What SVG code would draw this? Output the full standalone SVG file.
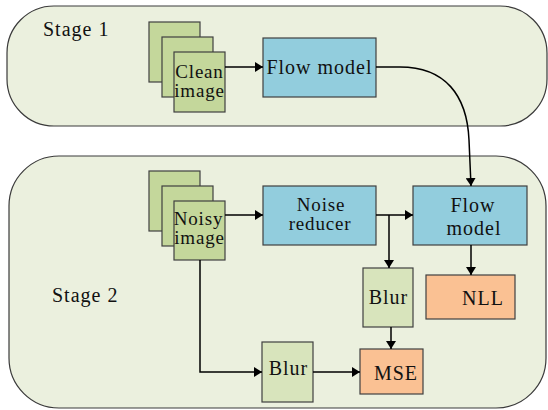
<svg xmlns="http://www.w3.org/2000/svg" width="548" height="410" viewBox="0 0 548 410">
<style>
.stage{fill:#ebf0de;stroke:#3a3a3a;stroke-width:1.2}
.img{fill:#c4d79b;stroke:#404040;stroke-width:1.2}
.blur{fill:#d8e4bc;stroke:#404040;stroke-width:1.2}
.blue{fill:#92cddd;stroke:#404040;stroke-width:1.2}
.orange{fill:#fac193;stroke:#404040;stroke-width:1.2}
text{font-family:'Times New Roman','Liberation Serif',serif;font-size:20px;fill:#111;letter-spacing:1px}
.s{font-size:19px;letter-spacing:0.8px}
.m{text-anchor:middle}
.c{fill:none;stroke:#000;stroke-width:1.5}
</style>
<defs>
<marker id="ah" markerUnits="userSpaceOnUse" markerWidth="8" markerHeight="10" viewBox="0 0 8 10" refX="8" refY="5" orient="auto">
<path d="M0,0 L8,5 L0,10 z" fill="#000"/>
</marker>
</defs>
<g id="stage1">
<rect class="stage" x="7" y="6" width="540" height="120" rx="47" ry="47"/>
<text x="43" y="36">Stage 1</text>
</g>
<g id="stage2">
<rect class="stage" x="9" y="156" width="537" height="252" rx="50" ry="50"/>
<text x="52" y="302">Stage 2</text>
</g>
<g id="clean-image">
<rect class="img" x="149" y="22" width="51" height="60"/>
<rect class="img" x="162" y="37" width="51" height="60"/>
<rect class="img" x="174" y="52" width="51" height="60"/>
<text class="m s" x="199.5" y="78">Clean</text>
<text class="m s" x="199.5" y="97">image</text>
</g>
<g id="flow-model-1">
<rect class="blue" x="263" y="38" width="113" height="59"/>
<text class="m" x="319.5" y="74">Flow model</text>
</g>
<g id="noisy-image">
<rect class="img" x="149" y="171" width="51" height="60"/>
<rect class="img" x="162" y="186" width="51" height="60"/>
<rect class="img" x="174" y="201" width="51" height="59"/>
<text class="m s" x="198.5" y="225">Noisy</text>
<text class="m s" x="199.5" y="244">image</text>
</g>
<g id="noise-reducer">
<rect class="blue" x="263" y="186" width="113" height="59"/>
<text class="m s" x="321" y="211">Noise</text>
<text class="m s" x="320" y="230">reducer</text>
</g>
<g id="flow-model-2">
<rect class="blue" x="413" y="186" width="114" height="59"/>
<text class="m" x="473" y="212">Flow</text>
<text class="m" x="474" y="235">model</text>
</g>
<g id="blur-1">
<rect class="blur" x="363" y="268" width="50" height="59"/>
<text class="m" x="388.5" y="304">Blur</text>
</g>
<g id="nll">
<rect class="orange" x="426" y="275" width="89" height="44"/>
<text class="m" x="483" y="305">NLL</text>
</g>
<g id="blur-2">
<rect class="blur" x="262" y="342" width="51" height="60"/>
<text class="m" x="288.5" y="375">Blur</text>
</g>
<g id="mse">
<rect class="orange" x="360" y="349" width="63" height="45"/>
<text class="m" x="396" y="380">MSE</text>
</g>
<g id="connectors">
<path class="c" d="M225,67 H263" marker-end="url(#ah)"/>
<path class="c" d="M376,67 H400 C445,67 467,95 469,140 L471,186" marker-end="url(#ah)"/>
<path class="c" d="M225,215 H263" marker-end="url(#ah)"/>
<path class="c" d="M376,215 H413" marker-end="url(#ah)"/>
<path class="c" d="M389,215 V268" marker-end="url(#ah)"/>
<path class="c" d="M471,245 V275" marker-end="url(#ah)"/>
<path class="c" d="M391,327 V349" marker-end="url(#ah)"/>
<path class="c" d="M200,260 V372 H262" marker-end="url(#ah)"/>
<path class="c" d="M313,372 H360" marker-end="url(#ah)"/>
</g>
</svg>
